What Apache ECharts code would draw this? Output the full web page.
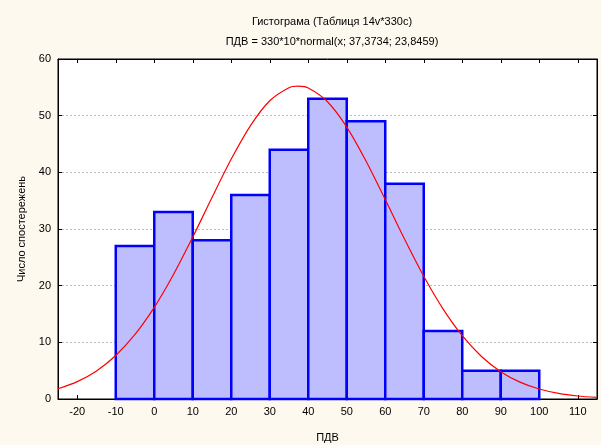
<!DOCTYPE html>
<html>
<head>
<meta charset="utf-8">
<script src="https://cdn.jsdelivr.net/npm/echarts@6/dist/echarts.min.js"></script>
<style>
html,body{margin:0;padding:0;background:#FDF9EF;}
#chart{width:601px;height:445px;}
</style>
</head>
<body>
<div id="chart"></div>
<script>
var binLow = [-10, 0, 10, 20, 30, 40, 50, 60, 70, 80, 90];
var binHigh = [0, 10, 20, 30, 40, 50, 60, 70, 80, 90, 100];
var counts = [27, 33, 28, 36, 44, 53, 49, 38, 12, 5, 5];
var curveX = [-25, -20, -15, -10, -5, 0, 5, 10, 15, 20, 25, 30, 35, 37.4, 40, 45, 50, 55, 60, 65, 70, 75, 80, 85, 90, 95, 100, 105, 110, 115];
var curveY = [1.8, 3.06, 4.95, 7.68, 11.39, 16.17, 21.97, 28.57, 35.55, 42.34, 48.25, 52.63, 54.94, 55.21, 54.88, 52.46, 47.99, 42.01, 35.2, 28.22, 21.65, 15.9, 11.17, 7.51, 4.83, 2.98, 1.76, 0.99, 0.53, 0.28];
var xTicks = [-20, -10, 0, 10, 20, 30, 40, 50, 60, 70, 80, 90, 100, 110];
var yTicks = [0, 10, 20, 30, 40, 50, 60];

var barData = binLow.map(function (v, i) { return [v, binHigh[i], counts[i]]; });
var lineData = curveX.map(function (v, i) { return [v, curveY[i]]; });

var FONT = 'Liberation Sans, Arial, sans-serif';
var chart = echarts.init(document.getElementById('chart'), null, {renderer: 'canvas'});
chart.setOption({
  backgroundColor: '#FDF9EF',
  animation: false,
  title: [
    {text: 'Гистограма (Таблиця 14v*330c)', left: 327, top: 11, textAlign: 'center',
     textStyle: {fontFamily: FONT, fontSize: 11, fontWeight: 'normal', color: '#000'}},
    {text: 'ПДВ = 330*10*normal(x; 37,3734; 23,8459)', left: 327, top: 31, textAlign: 'center',
     textStyle: {fontFamily: FONT, fontSize: 11, fontWeight: 'normal', color: '#000'}}
  ],
  grid: {left: 58, right: 4, top: 59, bottom: 46, show: true, outerBoundsMode: 'none', containLabel: false,
         backgroundColor: '#FFFFFF', borderColor: '#000', borderWidth: 1},
  xAxis: [
    {type: 'value', min: -25, max: 115, position: 'bottom',
     name: 'ПДВ', nameLocation: 'middle', nameGap: 33,
     nameTextStyle: {fontFamily: FONT, fontSize: 11, color: '#000'},
     axisLine: {onZero: false, lineStyle: {color: '#000', width: 1}},
     axisTick: {inside: true, length: 4, customValues: xTicks, lineStyle: {color: '#000'}},
     axisLabel: {customValues: xTicks, fontFamily: FONT, fontSize: 11, color: '#000', margin: 7},
     splitLine: {show: false}},
    {type: 'value', min: -25, max: 115, position: 'top',
     axisLine: {onZero: false, lineStyle: {color: '#000', width: 1}},
     axisTick: {inside: true, length: 4, customValues: xTicks, lineStyle: {color: '#000'}},
     axisLabel: {show: false}, splitLine: {show: false}}
  ],
  yAxis: [
    {type: 'value', min: 0, max: 60, interval: 10, position: 'left',
     name: 'Число спостережень', nameLocation: 'middle', nameGap: 28,
     nameTextStyle: {fontFamily: FONT, fontSize: 11, color: '#000'},
     axisLine: {show: true, onZero: false, lineStyle: {color: '#000', width: 1}},
     axisTick: {show: true, inside: true, length: 4, lineStyle: {color: '#000'}},
     axisLabel: {fontFamily: FONT, fontSize: 11, color: '#000', margin: 7},
     splitLine: {show: true, lineStyle: {color: '#BDBDBD', type: [2, 2], width: 1}}},
    {type: 'value', min: 0, max: 60, interval: 10, position: 'right',
     axisLine: {show: true, onZero: false, lineStyle: {color: '#000', width: 1}},
     axisTick: {show: true, inside: true, length: 4, lineStyle: {color: '#000'}},
     axisLabel: {show: false}, splitLine: {show: false}}
  ],
  series: [
    {type: 'custom', xAxisIndex: 0, yAxisIndex: 0, data: barData, z: 2,
     encode: {x: [0, 1], y: 2},
     renderItem: function (params, api) {
       var p0 = api.coord([api.value(0), api.value(2)]);
       var p1 = api.coord([api.value(1), 0]);
       return {type: 'rect',
         shape: {x: p0[0], y: p0[1], width: p1[0] - p0[0], height: p1[1] - p0[1]},
         style: {fill: '#BEBEFF', stroke: '#0000FF', lineWidth: 2.5}};
     }},
    {type: 'line', xAxisIndex: 0, yAxisIndex: 0, data: lineData, smooth: 0.3, z: 5,
     showSymbol: false, symbol: 'none',
     lineStyle: {color: '#FF0000', width: 1.2}}
  ]
});
</script>
</body>
</html>
